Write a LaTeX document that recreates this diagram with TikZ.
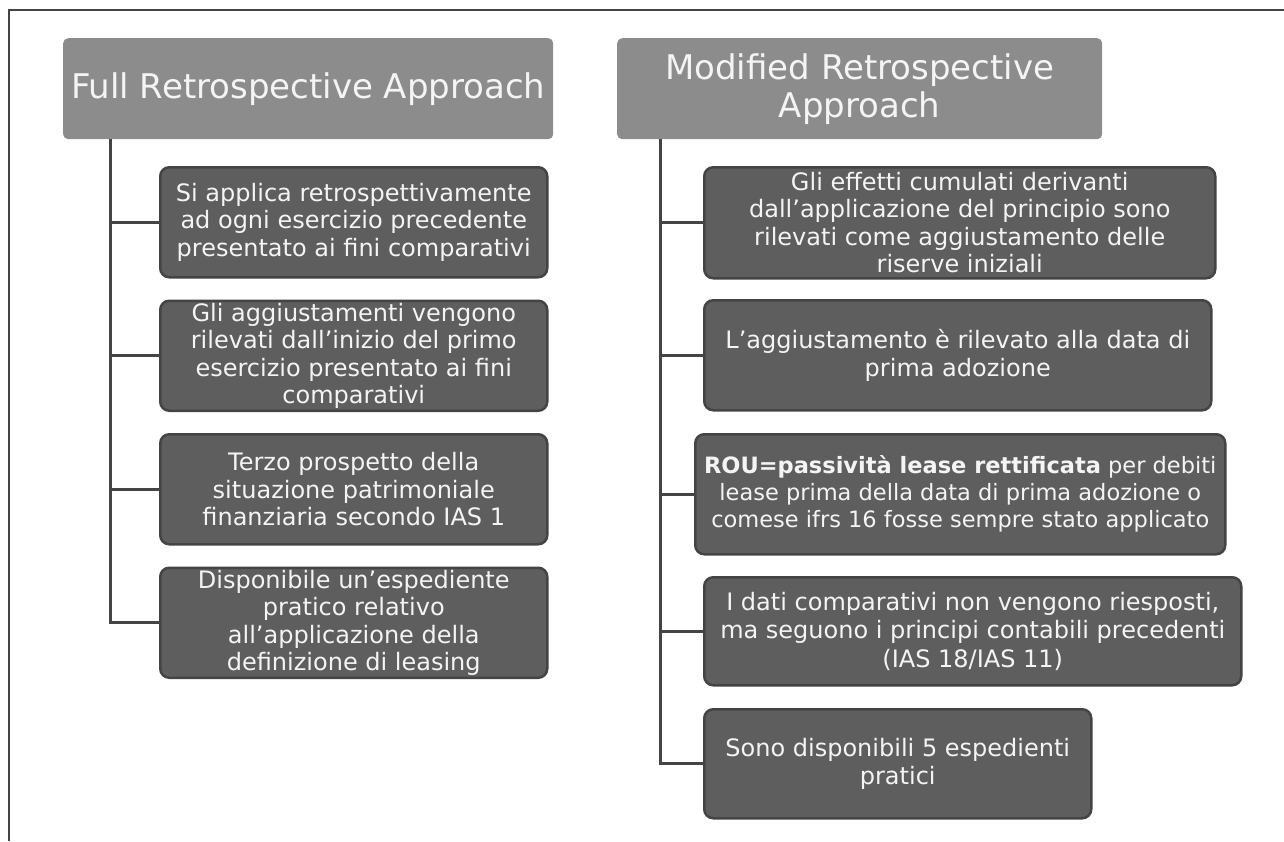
\documentclass[tikz,border=0pt]{standalone}
\usepackage{fontspec}
\setmainfont{DejaVu Sans}
\usetikzlibrary{positioning}
\definecolor{headgray}{HTML}{8C8C8C}
\definecolor{boxgray}{HTML}{5E5E5E}
\definecolor{edgegray}{HTML}{444444}
\definecolor{txtwhite}{HTML}{F4F4F4}

\begin{document}
\begin{tikzpicture}[x=1pt,y=-1pt,
    header/.style={
        fill=headgray,
        rounded corners=5pt,
        text=txtwhite,
        font=\fontsize{34}{38}\selectfont,
        align=center,
        anchor=north west,
        inner sep=0pt,
        minimum height=101pt
    },
    item/.style={
        draw=edgegray, line width=2.5pt,
        fill=boxgray,
        rounded corners=9pt,
        text=txtwhite,
        font=\fontsize{24}{27.5}\selectfont,
        align=center,
        anchor=north west,
        inner sep=0pt,
        minimum height=110pt
    },
    link/.style={draw=edgegray, line width=3pt},
    node distance=21pt
]
\useasboundingbox (0,0) rectangle (1284,841);
\draw[edgegray, line width=1.5pt] (1284,10) -- (9,10) -- (9,841);

% headers
\node[header, minimum width=490pt] (full) at (63,38) {Full Retrospective Approach};
\node[header, minimum width=485pt] (modified) at (617,38) {Modified Retrospective\\Approach};

% left column
\node[item, minimum width=387pt] (f1) at (159,166) {Si applica  retrospettivamente\\ad ogni esercizio precedente\\presentato ai fini comparativi};
\node[item, minimum width=387pt, below=of f1] (f2) {Gli aggiustamenti vengono\\rilevati dall’inizio del primo\\esercizio presentato ai fini\\comparativi};
\node[item, minimum width=387pt, below=of f2] (f3) {Terzo prospetto della\\situazione patrimoniale\\finanziaria secondo IAS 1};
\node[item, minimum width=387pt, below=of f3] (f4) {Disponibile un’espediente\\pratico relativo\\all'applicazione  della\\definizione di leasing};

% right column
\node[item, minimum width=511pt, minimum height=111pt] (m1) at (703,166) {Gli effetti cumulati derivanti\\dall’applicazione  del principio sono\\rilevati come  aggiustamento delle\\riserve iniziali};
\node[item, minimum width=507pt] (m2) at (703,299) {L’aggiustamento è rilevato alla data di\\prima adozione};
\node[item, minimum width=530pt, minimum height=120pt, font=\fontsize{22.5}{27}\selectfont] (m3) at (694,433) {\textbf{ROU=passività lease rettificata} per debiti\\lease prima della data di prima adozione o\\comese ifrs 16 fosse sempre stato applicato};
\node[item, minimum width=537pt, minimum height=108pt, font=\fontsize{24}{28.3}\selectfont] (m4) at (703,576) {I dati comparativi non vengono riesposti,\\ma seguono i principi contabili precedenti\\(IAS 18/IAS 11)};
\node[item, minimum width=387pt, minimum height=109pt] (m5) at (703,708) {Sono disponibili 5 espedienti\\pratici};

% trunks
\coordinate (froot) at (110,139);
\coordinate (mroot) at (660,139);
\draw[link] (froot) |- (f4.west);
\foreach \n in {f1,f2,f3}
    \draw[link] (froot |- \n.west) -- (\n.west);
\draw[link] (mroot) |- (m5.west);
\foreach \n in {m1,m2,m3,m4}
    \draw[link] (mroot |- \n.west) -- (\n.west);
\end{tikzpicture}
\end{document}
